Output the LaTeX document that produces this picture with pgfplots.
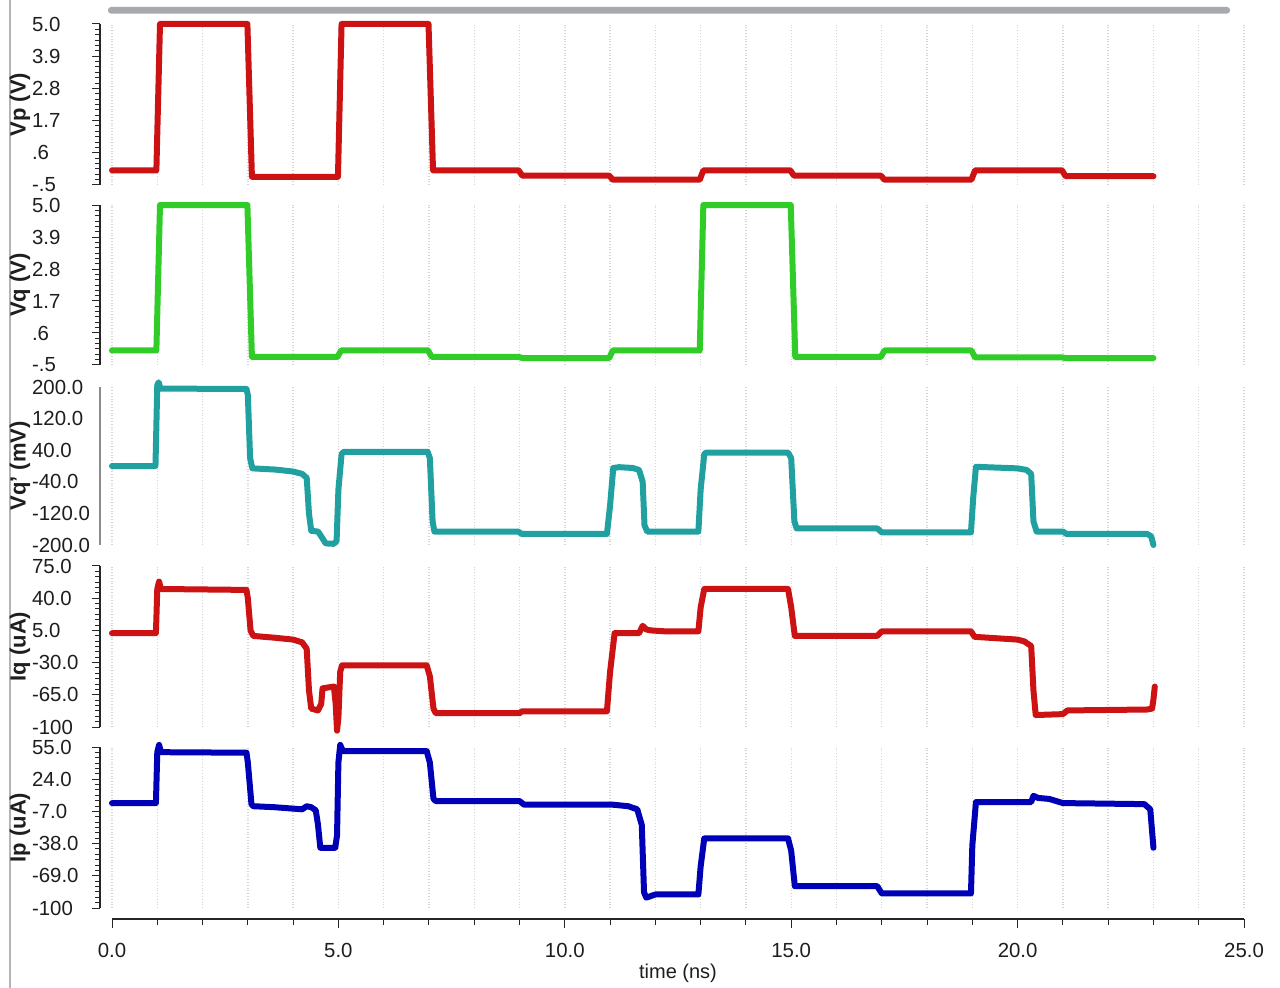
\documentclass[border=0pt]{standalone}
\usepackage{fontspec}
\setmainfont{Liberation Sans}
\usepackage{pgfplots}
\pgfplotsset{compat=1.18}

\definecolor{traceRed}{RGB}{204,18,18}
\definecolor{traceGreen}{RGB}{48,204,40}
\definecolor{traceCyan}{RGB}{32,160,160}
\definecolor{traceBlue}{RGB}{0,0,182}
\definecolor{gridGray}{RGB}{212,212,212}
\definecolor{labelGray}{RGB}{30,30,30}
\definecolor{frameGray}{RGB}{180,180,180}
\definecolor{barGray}{RGB}{166,169,173}

\pgfplotsset{
  trace/.style={line width=3pt, line join=round, line cap=round},
  panel/.style={
    scale only axis, width=572pt, anchor=south west,
    xmin=-0.265, xmax=25,
    axis y line*=left, axis x line*=bottom,
    x axis line style={draw=none},
    xtick={0,1,...,25}, xticklabel=\empty,
    xtick style={draw=none},
    xmajorgrids,
    major x grid style={gridGray, densely dotted, line width=0.7pt},
    tick align=outside,
    minor y tick num=5,
    major tick length=4pt, minor tick length=2.6pt,
    y axis line style={black!85, line width=0.6pt},
    ytick style={black!85, line width=0.5pt},
    yticklabel style={anchor=west, xshift=-33.5pt, text=labelGray,
      font=\fontsize{10.2}{11}\selectfont},
    every axis y label/.style={at={(axis description cs:-0.0699,0.5)},
      rotate=90, anchor=center, text=labelGray,
      font=\bfseries\fontsize{11}{12}\selectfont},
    clip=false,
  },
}

\begin{document}
\begin{tikzpicture}
\useasboundingbox (0,0) rectangle (640pt,-494pt);
\fill[white] (0,0) rectangle (640pt,-494pt);
% window frame and scroll bar
\draw[frameGray, line width=1.2pt] (5pt,0) -- (5pt,-494pt);
\fill[barGray, rounded corners=1.5pt] (54pt,-3.5pt) rectangle (615pt,-6.8pt);

% Vp
\begin{axis}[panel, at={(50pt,-92.5pt)}, height=80.5pt,
  ymin=-0.5, ymax=5.0,
  ytick={5.0,3.9,2.8,1.7,0.6,-0.5}, yticklabels={5.0,3.9,2.8,1.7,.6,-.5},
  ylabel={Vp (V)}]
\addplot[trace, traceRed] coordinates {
(0,0.0) (0.98,0.0) (1.06,5.0) (2.99,5.0) (3.09,-0.22) (4.99,-0.22)
(5.07,5.0) (6.99,5.0) (7.09,0.0) (8.98,0.0) (9.06,-0.18) (10.98,-0.18)
(11.06,-0.32) (12.98,-0.32) (13.06,0.0) (14.98,0.0) (15.06,-0.18)
(16.98,-0.18) (17.06,-0.32) (18.98,-0.32) (19.06,0.0) (20.98,0.0)
(21.06,-0.2) (23.0,-0.2)};
\end{axis}

% Vq
\begin{axis}[panel, at={(50pt,-182.5pt)}, height=80pt,
  ymin=-0.5, ymax=5.0,
  ytick={5.0,3.9,2.8,1.7,0.6,-0.5}, yticklabels={5.0,3.9,2.8,1.7,.6,-.5},
  ylabel={Vq (V)}]
\addplot[trace, traceGreen] coordinates {
(0,0.0) (0.98,0.0) (1.06,5.0) (2.99,5.0) (3.09,-0.22) (4.98,-0.22)
(5.06,0.0) (6.98,0.0) (7.06,-0.22) (8.98,-0.22) (9.06,-0.26) (10.98,-0.26)
(11.06,0.0) (12.98,0.0) (13.06,5.0) (14.99,5.0) (15.09,-0.22) (16.98,-0.22)
(17.06,0.0) (18.98,0.0) (19.06,-0.24) (20.98,-0.24) (21.06,-0.26) (23.0,-0.26)};
\end{axis}

% Vq'
\begin{axis}[panel, at={(50pt,-272.5pt)}, height=79pt,
  ymin=-200, ymax=200,
  ytick={200,120,40,-40,-120,-200},
  yticklabels={200.0,120.0,40.0,-40.0,-120.0,-200.0},
  ytick style={draw=none}, minor y tick num=0,
  y axis line style={black!45, line width=1.3pt},
  ylabel={Vq' (mV)}]
\addplot[trace, traceCyan] coordinates {
(0,0) (0.96,0) (1.0,205) (1.03,212) (1.07,196) (2.97,195) (3.0,180)
(3.05,20) (3.1,-6) (3.6,-9) (4.0,-14) (4.2,-20) (4.3,-30) (4.35,-120)
(4.4,-164) (4.55,-166) (4.62,-178) (4.72,-196) (4.9,-197) (4.96,-190)
(5.0,-60) (5.07,30) (5.12,36) (6.97,36) (7.02,20) (7.08,-140) (7.12,-166)
(8.97,-166) (9.05,-172) (10.93,-172) (11.0,-100) (11.07,-5) (11.2,-3)
(11.5,-5) (11.64,-10) (11.72,-40) (11.76,-150) (11.82,-166) (12.95,-166)
(13.0,-60) (13.08,30) (13.12,34) (14.93,34) (15.0,20) (15.07,-140)
(15.12,-158) (16.9,-158) (17.0,-168) (18.97,-168) (19.02,-80) (19.08,-2)
(19.3,-3) (20.0,-6) (20.2,-10) (20.3,-20) (20.35,-140) (20.42,-166)
(21.0,-166) (21.08,-172) (22.86,-172) (22.95,-178) (23.0,-200)};
\end{axis}

% Iq
\begin{axis}[panel, at={(50pt,-363.5pt)}, height=80.5pt,
  ymin=-100, ymax=75,
  ytick={75,40,5,-30,-65,-100},
  yticklabels={75.0,40.0,5.0,-30.0,-65.0,-100},
  ylabel={Iq (uA)}]
\addplot[trace, traceRed] coordinates {
(0,2) (0.97,2) (1.0,50) (1.04,58) (1.08,50) (2.97,49) (3.0,40) (3.06,5)
(3.12,-1) (3.6,-3) (4.0,-5) (4.2,-8) (4.3,-15) (4.35,-60) (4.4,-80)
(4.55,-82) (4.62,-75) (4.65,-58) (4.9,-56) (4.94,-75) (4.97,-104)
(5.0,-90) (5.04,-40) (5.08,-33) (6.95,-33) (7.02,-45) (7.1,-80)
(7.15,-85) (9.0,-85) (9.05,-83) (10.93,-83) (11.0,-40) (11.1,2)
(11.64,2) (11.72,10) (11.8,6) (11.9,5) (12.2,4) (12.95,4) (13.0,30)
(13.08,50) (14.93,50) (15.0,30) (15.08,-1) (16.9,-1) (17.0,4) (18.97,4)
(19.05,-2) (20.0,-5) (20.15,-7) (20.3,-12) (20.35,-60) (20.4,-87)
(21.0,-86) (21.1,-82) (22.86,-81) (22.97,-80) (23.0,-70) (23.03,-56)};
\end{axis}

% Ip
\begin{axis}[panel, at={(50pt,-454pt)}, height=80.5pt,
  ymin=-100, ymax=55,
  ytick={55,24,-7,-38,-69,-100},
  yticklabels={55.0,24.0,-7.0,-38.0,-69.0,-100},
  ylabel={Ip (uA)}]
\addplot[trace, traceBlue] coordinates {
(0,1) (0.97,1) (1.0,50) (1.04,57) (1.08,50) (2.97,49.5) (3.0,40) (3.08,0)
(3.12,-2) (3.6,-3) (4.2,-5) (4.3,-2) (4.4,-3) (4.5,-6) (4.55,-20)
(4.6,-42) (4.93,-42) (4.97,-30) (5.0,40) (5.04,57) (5.1,51) (6.95,51)
(7.02,40) (7.1,5) (7.15,3) (9.0,3) (9.1,-0.5) (11.05,-0.5) (11.4,-2)
(11.6,-5) (11.7,-20) (11.75,-85) (11.8,-90) (12.0,-87) (12.95,-87)
(13.0,-60) (13.08,-33) (14.93,-33) (15.0,-45) (15.08,-79) (16.9,-79)
(17.0,-86) (18.97,-86) (19.0,-40) (19.08,2) (20.3,2) (20.35,8) (20.45,6)
(20.7,5) (20.85,3) (21.0,1) (22.8,0) (22.93,-5) (23.0,-42)};
\end{axis}

% shared time axis
\begin{axis}[scale only axis, at={(56pt,-459.5pt)}, anchor=south west,
  width=566pt, height=1pt,
  xmin=0, xmax=25, ymin=0, ymax=1,
  axis y line=none, axis x line*=bottom,
  x axis line style={black!85, line width=0.6pt},
  xtick={0,5,...,25}, xticklabels={0.0,5.0,10.0,15.0,20.0,25.0},
  minor x tick num=4,
  tick align=outside, major tick length=4.5pt, minor tick length=3pt,
  xtick style={black!85, line width=0.5pt},
  xticklabel style={yshift=-4pt, text=labelGray,
    font=\fontsize{10.2}{11}\selectfont},
  every axis x label/.style={at={(axis description cs:0.5,0)},
    anchor=center, yshift=-27pt, text=labelGray,
    font=\fontsize{10}{12}\selectfont},
  xlabel={time (ns)}]
\end{axis}
\end{tikzpicture}
\end{document}
